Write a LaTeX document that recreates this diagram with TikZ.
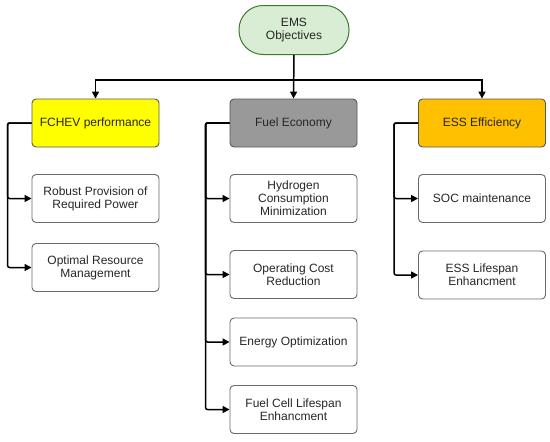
\documentclass[tikz,border=0pt]{standalone}
\usepackage{fontspec}
\setmainfont{Liberation Sans}
\usetikzlibrary{arrows.meta}
\definecolor{emsfill}{HTML}{D8EDD3}
\definecolor{emsdraw}{HTML}{3D7A2E}
\definecolor{yel}{HTML}{FFFF00}
\definecolor{gry}{HTML}{999999}
\definecolor{ora}{HTML}{FFC000}
\definecolor{bord}{HTML}{6A6A6A}
\tikzset{
  box/.style={draw=bord, line width=0.9pt, rounded corners=4pt, minimum width=127pt, minimum height=48pt, align=center, font=\fontsize{12}{12.8}\selectfont, text=black!85},
  head/.style={box, draw=black!65},
  arr/.style={line width=1.5pt, -{Triangle[length=7pt,width=7pt]}},
}
\begin{document}
\begin{tikzpicture}[x=1pt,y=-1pt]
\useasboundingbox (0,0) rectangle (550,442);
\node[draw=emsdraw, fill=emsfill, line width=1pt, rounded corners=24pt, minimum width=110pt, minimum height=49pt, align=center, font=\fontsize{12}{13}\selectfont, text=black!85] (ems) at (294,30) {EMS\\Objectives};

\node[head, fill=yel] (fchev) at (95.5,123) {FCHEV performance};
\node[head, fill=gry] (fuel) at (293.5,123) {Fuel Economy};
\node[head, fill=ora] (ess) at (482,123) {ESS Efficiency};

\node[box] (robust) at (95.5,198.5) {Robust Provision of\\Required Power};
\node[box] (optimal) at (95.5,267.5) {Optimal Resource\\Management};

\node[box] (hydro) at (293.5,198.5) {Hydrogen\\Consumption\\Minimization};
\node[box] (oper) at (293.5,274.5) {Operating Cost\\Reduction};
\node[box] (energy) at (293.5,342) {Energy Optimization};
\node[box] (fcell) at (293.5,409.5) {Fuel Cell Lifespan\\Enhancment};

\node[box] (soc) at (482,198.5) {SOC maintenance};
\node[box] (esslife) at (482,275) {ESS Lifespan\\Enhancment};

\coordinate (bus) at (294,80);
\draw[arr] (ems.south) -- (fuel.north);
\draw[arr] (bus) -| (fchev.north);
\draw[arr] (bus) -| (ess.north);

\draw[arr, rounded corners=2pt] (fchev.west) -- ++(-24,0) |- (robust.west);
\draw[arr, rounded corners=2pt] (fchev.west) -- ++(-24,0) |- (optimal.west);

\draw[arr, rounded corners=2pt] (fuel.west) -- ++(-24,0) |- (hydro.west);
\draw[arr, rounded corners=2pt] (fuel.west) -- ++(-24,0) |- (oper.west);
\draw[arr, rounded corners=2pt] (fuel.west) -- ++(-24,0) |- (energy.west);
\draw[arr, rounded corners=2pt] (fuel.west) -- ++(-24,0) |- (fcell.west);

\draw[arr, rounded corners=2pt] (ess.west) -- ++(-24,0) |- (soc.west);
\draw[arr, rounded corners=2pt] (ess.west) -- ++(-24,0) |- (esslife.west);
\end{tikzpicture}
\end{document}
